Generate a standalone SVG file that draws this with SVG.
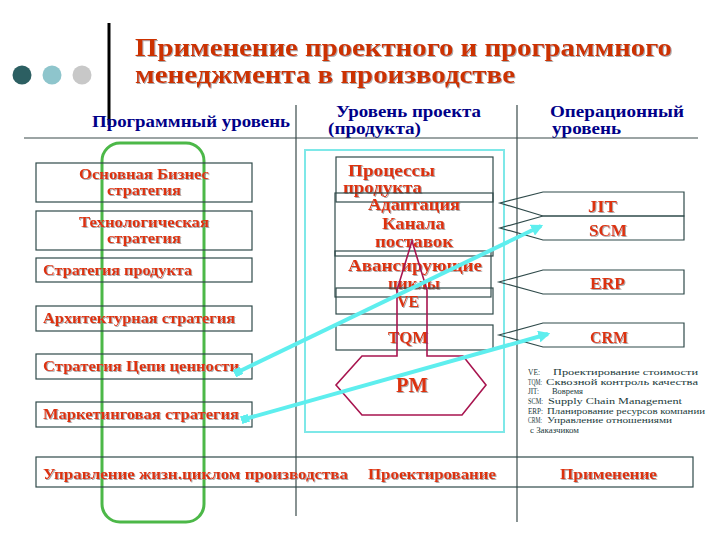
<svg xmlns="http://www.w3.org/2000/svg" width="720" height="540" viewBox="0 0 720 540">
<defs>
<style>
.bx{fill:none;stroke:#2f4a4a;stroke-width:1.2}
.rt{font-family:"Liberation Serif","DejaVu Serif",serif;font-weight:bold;fill:#dd3311}
.ls{font-size:15px}
.ms{font-size:16px}
.hd{font-family:"Liberation Serif","DejaVu Serif",serif;font-weight:bold;font-size:16px;fill:#000088}
.lg{font-family:"Liberation Serif","DejaVu Serif",serif;font-size:9px;fill:#1a3a3a}
.op{fill:none;stroke:#2f4a4a;stroke-width:1.2}
.cy{stroke:#5eeeee;stroke-width:4;fill:none}
.dv{stroke:#3a4a4a;stroke-width:1.2}
</style>
<filter id="sh" x="-5%" y="-20%" width="110%" height="140%">
<feDropShadow dx="1" dy="1" stdDeviation="0.4" flood-color="#888888" flood-opacity="0.7"/>
</filter>
<marker id="ah" viewBox="0 0 10 10" refX="8" refY="5" markerWidth="3" markerHeight="3" orient="auto">
<path d="M0,0 L10,5 L0,10 Z" fill="#5eeeee"/>
</marker>
<marker id="sq" viewBox="0 0 10 10" refX="5" refY="5" markerWidth="2" markerHeight="2" orient="auto">
<rect x="0" y="0" width="10" height="10" fill="#5eeeee"/>
</marker>
</defs>
<rect width="720" height="540" fill="#ffffff"/>

<g id="decor">
<circle cx="22" cy="75" r="9.5" fill="#2c5f62"/>
<circle cx="52" cy="75" r="9.5" fill="#8ec5cc"/>
<circle cx="82" cy="75" r="9.5" fill="#c8c8c8"/>
<line x1="109" y1="23" x2="109" y2="125" stroke="#000" stroke-width="3"/>
</g>

<g id="title" filter="url(#sh)">
<text x="135" y="56" font-family="'Liberation Serif','DejaVu Serif',serif" font-weight="bold" font-size="25" fill="#cc3300" textLength="537" lengthAdjust="spacingAndGlyphs">Применение проектного и программного</text>
<text x="135" y="83" font-family="'Liberation Serif','DejaVu Serif',serif" font-weight="bold" font-size="25" fill="#cc3300" textLength="380" lengthAdjust="spacingAndGlyphs">менеджмента в производстве</text>
</g>

<g id="headers">
<text class="hd" x="92" y="127" textLength="198" lengthAdjust="spacingAndGlyphs">Программный уровень</text>
<text class="hd" x="336" y="117" textLength="145" lengthAdjust="spacingAndGlyphs">Уровень проекта</text>
<text class="hd" x="328" y="134" textLength="93" lengthAdjust="spacingAndGlyphs">(продукта)</text>
<text class="hd" x="550" y="117" textLength="134" lengthAdjust="spacingAndGlyphs">Операционный</text>
<text class="hd" x="552" y="134" textLength="69" lengthAdjust="spacingAndGlyphs">уровень</text>
</g>

<g id="grid">
<line class="dv" x1="24" y1="138" x2="698" y2="138"/>
<line class="dv" x1="296" y1="105" x2="296" y2="516"/>
<line class="dv" x1="517" y1="105" x2="517" y2="522"/>
</g>

<g id="program-level">
<rect x="102" y="143" width="102" height="379" rx="18" fill="none" stroke="#4cb848" stroke-width="3"/>
</g>

<g id="project-level">
<rect x="305" y="150" width="199" height="282" fill="none" stroke="#7ee8e8" stroke-width="2"/>
</g>

<g id="n-business">
<rect class="bx" x="36" y="163" width="216" height="39"/>
<g class="rt ls" filter="url(#sh)">
<text x="79" y="179" textLength="130" lengthAdjust="spacingAndGlyphs">Основная Бизнес</text>
<text x="107" y="195" textLength="74" lengthAdjust="spacingAndGlyphs">стратегия</text>
</g>
</g>
<g id="n-tech">
<rect class="bx" x="36" y="211" width="216" height="39"/>
<g class="rt ls" filter="url(#sh)">
<text x="79" y="227" textLength="130" lengthAdjust="spacingAndGlyphs">Технологическая</text>
<text x="107" y="243" textLength="74" lengthAdjust="spacingAndGlyphs">стратегия</text>
</g>
</g>
<g id="n-product">
<rect class="bx" x="36" y="258" width="216" height="24"/>
<text class="rt ls" filter="url(#sh)" x="43" y="275" textLength="149" lengthAdjust="spacingAndGlyphs">Стратегия продукта</text>
</g>
<g id="n-arch">
<rect class="bx" x="36" y="306" width="216" height="25"/>
<text class="rt ls" filter="url(#sh)" x="43" y="323" textLength="192" lengthAdjust="spacingAndGlyphs">Архитектурная стратегия</text>
</g>
<g id="n-value">
<rect class="bx" x="36" y="354" width="216" height="25"/>
<text class="rt ls" filter="url(#sh)" x="43" y="371" textLength="196" lengthAdjust="spacingAndGlyphs">Стратегия Цепи ценности</text>
</g>
<g id="n-marketing">
<rect class="bx" x="36" y="402" width="216" height="25"/>
<text class="rt ls" filter="url(#sh)" x="43" y="419" textLength="196" lengthAdjust="spacingAndGlyphs">Маркетинговая стратегия</text>
</g>
<g id="n-lifecycle">
<rect class="bx" x="36" y="457" width="657" height="30"/>
<g class="rt ls" filter="url(#sh)">
<text x="43" y="479" textLength="305" lengthAdjust="spacingAndGlyphs">Управление жизн.циклом производства</text>
<text x="368" y="479" textLength="128" lengthAdjust="spacingAndGlyphs">Проектирование</text>
<text x="560" y="479" textLength="97" lengthAdjust="spacingAndGlyphs">Применение</text>
</g>
</g>

<g id="n-processes">
<rect class="bx" x="336" y="157" width="157" height="45"/>
<g class="rt ms" filter="url(#sh)">
<text x="348" y="176" textLength="87" lengthAdjust="spacingAndGlyphs">Процессы</text>
<text x="343" y="193" textLength="79" lengthAdjust="spacingAndGlyphs">продукта</text>
</g>
</g>
<g id="n-adapt">
<rect class="bx" x="335" y="193" width="158" height="63"/>
<g class="rt ms" filter="url(#sh)">
<text x="368" y="210" textLength="92" lengthAdjust="spacingAndGlyphs">Адаптация</text>
<text x="382" y="229" textLength="63" lengthAdjust="spacingAndGlyphs">Канала</text>
<text x="375" y="247" textLength="78" lengthAdjust="spacingAndGlyphs">поставок</text>
</g>
</g>
<g id="n-advance">
<rect class="bx" x="335" y="251" width="156" height="46"/>
<g class="rt ms" filter="url(#sh)">
<text x="348" y="271" textLength="134" lengthAdjust="spacingAndGlyphs">Авансирующие</text>
<text x="388" y="289" textLength="52" lengthAdjust="spacingAndGlyphs">циклы</text>
</g>
</g>
<g id="n-ve">
<rect class="bx" x="336" y="288" width="157" height="26"/>
<text class="rt ms" filter="url(#sh)" x="397" y="307" textLength="22" lengthAdjust="spacingAndGlyphs">VE</text>
</g>
<g id="n-tqm">
<rect class="bx" x="336" y="325" width="157" height="25"/>
<text class="rt ms" filter="url(#sh)" x="388" y="343" textLength="40" lengthAdjust="spacingAndGlyphs">TQM</text>
</g>
<g id="n-pm">
<path d="M362,356 L397,356 L397,290 L412,241 L427,290 L427,356 L463,356 L486,385 L462,415 L362,415 L336,385 Z" fill="none" stroke="#a8154f" stroke-width="1.6"/>
<text class="rt" filter="url(#sh)" font-size="22" x="396" y="392" textLength="32" lengthAdjust="spacingAndGlyphs">PM</text>
</g>

<g id="n-jit">
<path class="op" d="M684,192 L543,192 L500,203 L543,216 L684,216 Z"/>
<text class="rt ms" filter="url(#sh)" x="588" y="212" textLength="29" lengthAdjust="spacingAndGlyphs">JIT</text>
</g>
<g id="n-scm">
<path class="op" d="M684,216 L543,216 L500,228 L543,240 L684,240 Z"/>
<text class="rt ms" filter="url(#sh)" x="589" y="236" textLength="38" lengthAdjust="spacingAndGlyphs">SCM</text>
</g>
<g id="n-erp">
<path class="op" d="M684,270 L543,270 L499,282 L543,294 L684,294 Z"/>
<text class="rt ms" filter="url(#sh)" x="590" y="289" textLength="35" lengthAdjust="spacingAndGlyphs">ERP</text>
</g>
<g id="n-crm">
<path class="op" d="M684,323 L543,323 L499,335 L543,347 L684,347 Z"/>
<text class="rt ms" filter="url(#sh)" x="590" y="343" textLength="38" lengthAdjust="spacingAndGlyphs">CRM</text>
</g>

<g id="legend" class="lg">
<text x="528" y="375" textLength="12" lengthAdjust="spacingAndGlyphs">VE:</text><text x="553" y="375" textLength="145" lengthAdjust="spacingAndGlyphs">Проектирование стоимости</text>
<text x="528" y="385" textLength="14" lengthAdjust="spacingAndGlyphs">TQM:</text><text x="546" y="385" textLength="152" lengthAdjust="spacingAndGlyphs">Сквозной контроль качества</text>
<text x="528" y="394" textLength="11" lengthAdjust="spacingAndGlyphs">JIT:</text><text x="552" y="394" textLength="31" lengthAdjust="spacingAndGlyphs">Вовремя</text>
<text x="528" y="404" textLength="15" lengthAdjust="spacingAndGlyphs">SCM:</text><text x="548" y="404" textLength="134" lengthAdjust="spacingAndGlyphs">Supply Chain Management</text>
<text x="528" y="414" textLength="15" lengthAdjust="spacingAndGlyphs">ERP:</text><text x="547" y="414" textLength="158" lengthAdjust="spacingAndGlyphs">Планирование ресурсов компании</text>
<text x="528" y="423" textLength="14" lengthAdjust="spacingAndGlyphs">CRM:</text><text x="547" y="423" textLength="125" lengthAdjust="spacingAndGlyphs">Управление отношениями</text>
<text x="530" y="433" textLength="49" lengthAdjust="spacingAndGlyphs">с Заказчиком</text>
</g>

<g id="connectors">
<line class="cy" x1="238" y1="372" x2="541" y2="226" marker-start="url(#sq)" marker-end="url(#ah)"/>
<line class="cy" x1="245" y1="419" x2="548" y2="334" marker-start="url(#sq)" marker-end="url(#ah)"/>
</g>
</svg>
